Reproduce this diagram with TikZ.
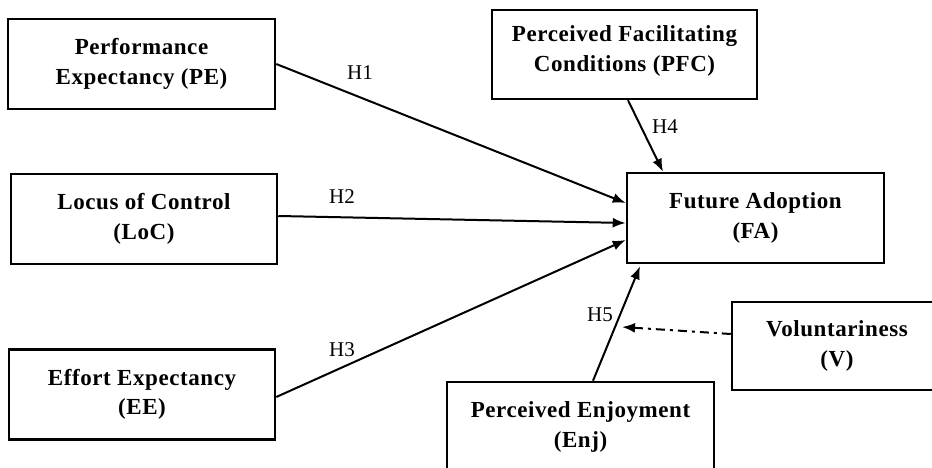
\documentclass[tikz,border=0pt]{standalone}
\usepackage{fontspec}
\setmainfont{Liberation Serif}
\newfontfamily\boxfont[LetterSpace=2.5]{Liberation Serif}
\usetikzlibrary{arrows.meta}
\begin{document}
\begin{tikzpicture}[x=1pt,y=1pt,
  box/.style={draw=black, line width=2.5pt, minimum width=#1, minimum height=90pt,
    align=center, font=\boxfont\fontsize{23}{29.5}\selectfont\bfseries, inner sep=0pt},
  conn/.style={line width=2pt, -{Latex[length=13pt,width=10pt]}},
  hlab/.style={font=\fontsize{21}{24}\selectfont, inner sep=0pt}]
\useasboundingbox (0,0) rectangle (932,468);
\clip (0,0) rectangle (932,468);
\fill[white] (0,0) rectangle (932,468);
\node[box=267pt] (PE)  at (141.5,404) {Performance\\Expectancy (PE)};
\node[box=266pt] (LoC) at (144,249)   {Locus of Control\\(LoC)};
\node[box=266pt] (EE)  at (142,73.5)  {Effort Expectancy\\(EE)};
\node[box=265pt, minimum height=89pt, text depth=12pt] (PFC) at (624.5,413.5) {Perceived Facilitating\\Conditions (PFC)};
\node[box=257pt] (FA)  at (755.5,250) {Future Adoption\\(FA)};
\node[box=210pt, minimum height=88pt] (V) at (837,122) {Voluntariness\\(V)};
\node[box=267pt] (Enj) at (580.5,41)  {Perceived Enjoyment\\(Enj)};
\coordinate (mid) at (622,141);
\draw[conn] (PE.east) -- ([yshift=15pt]FA.west);
\draw[conn] ([yshift=3pt]LoC.east) -- ([yshift=-5pt]FA.west);
\draw[conn] ([yshift=-2.5pt]EE.east) -- ([yshift=-22pt]FA.west);
\draw[conn] ([xshift=3.5pt]PFC.south) -- ([xshift=-92.5pt]FA.north);
\draw[conn] ([xshift=12.5pt]Enj.north) -- ([xshift=-115.5pt,yshift=-2pt]FA.south);
\draw[line width=2pt, dash pattern=on 9pt off 5pt on 3pt off 5pt, -{Latex[length=13pt,width=10pt]}] ([yshift=12pt]V.west) -- (mid);
\node[hlab] (h1) at (360,395) {H1};
\node[hlab] (h2) at (342,271) {H2};
\node[hlab] (h3) at (342,118) {H3};
\node[hlab] (h4) at (665,341) {H4};
\node[hlab] (h5) at (600,153) {H5};
\end{tikzpicture}
\end{document}
